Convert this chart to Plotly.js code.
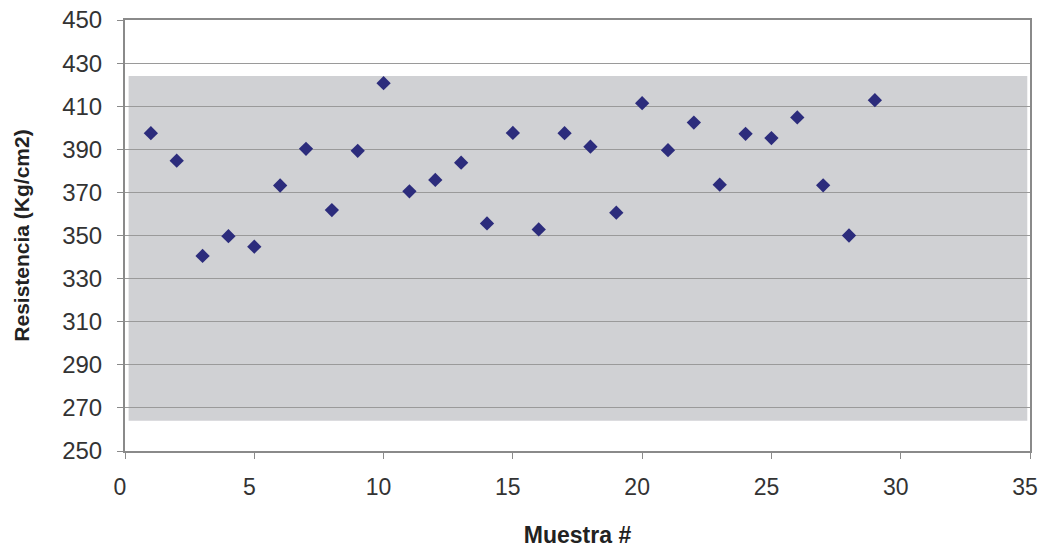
<!DOCTYPE html>
<html>
<head>
<meta charset="utf-8">
<script src="https://cdn.plot.ly/plotly-3.0.1.min.js"></script>
<style>html,body{margin:0;padding:0;background:#fff;}#chart{width:1043px;height:548px;}</style>
</head>
<body>
<div id="chart"></div>
<script>
// Data
const muestra = [1,2,3,4,5,6,7,8,9,10,11,12,13,14,15,16,17,18,19,20,21,22,23,24,25,26,27,28,29];
const resistencia = [397.5,384.7,340.5,349.7,344.8,373.2,390.2,361.8,389.3,420.7,370.5,375.8,383.8,355.6,397.6,352.8,397.5,391.2,360.6,411.4,389.6,402.4,373.6,397.2,395.2,404.8,373.3,350,412.8];
const yTicks = [250,270,290,310,330,350,370,390,410,430,450];
const xTicks = [0,5,10,15,20,25,30,35];

const font = "'Liberation Sans', Arial, sans-serif";

const trace = {
  x: muestra,
  y: resistencia,
  type: 'scatter',
  mode: 'markers',
  marker: {symbol: 'diamond', size: 11, color: '#2c2c7c', line: {width: 0}},
  hoverinfo: 'x+y'
};

const layout = {
  width: 1043,
  height: 548,
  margin: {l: 125, r: 13, t: 20, b: 97},
  paper_bgcolor: '#ffffff',
  plot_bgcolor: '#ffffff',
  showlegend: false,
  font: {family: font, color: '#333333', size: 24},
  xaxis: {
    range: [0, 35],
    tickvals: xTicks,
    ticktext: xTicks.map(String),
    ticks: 'outside',
    ticklen: 6,
    tickcolor: '#8a8a8a',
    showgrid: false,
    zeroline: false,
    showline: true,
    linecolor: '#8a8a8a',
    linewidth: 2,
    mirror: true,
    automargin: false,
    tickfont: {family: font, size: 23, color: '#333333'},
    ticklabelstandoff: 8,
    ticklabelshift: -5,
    title: {text: '<b>Muestra #</b>', font: {family: font, size: 23, color: '#222222'}, standoff: 28}
  },
  yaxis: {
    range: [250, 450],
    tickvals: yTicks,
    ticktext: yTicks.map(String),
    ticks: 'outside',
    ticklen: 6,
    tickcolor: '#8a8a8a',
    showgrid: true,
    gridcolor: '#9a9a9a',
    gridwidth: 1,
    zeroline: false,
    showline: true,
    linecolor: '#8a8a8a',
    linewidth: 2,
    mirror: true,
    automargin: false,
    tickfont: {family: font, size: 24, color: '#333333'},
    ticklabelstandoff: 10,
    title: {text: '<b>Resistencia (Kg/cm2)</b>', font: {family: font, size: 21, color: '#222222'}, standoff: 27}
  },
  shapes: [
    {type: 'rect', xref: 'paper', yref: 'y', x0: 0.004, x1: 0.997, y0: 264, y1: 424,
     fillcolor: '#d0d1d4', line: {width: 0}, layer: 'below'}
  ]
};

Plotly.newPlot('chart', [trace], layout, {displayModeBar: false, staticPlot: true});
</script>
</body>
</html>
